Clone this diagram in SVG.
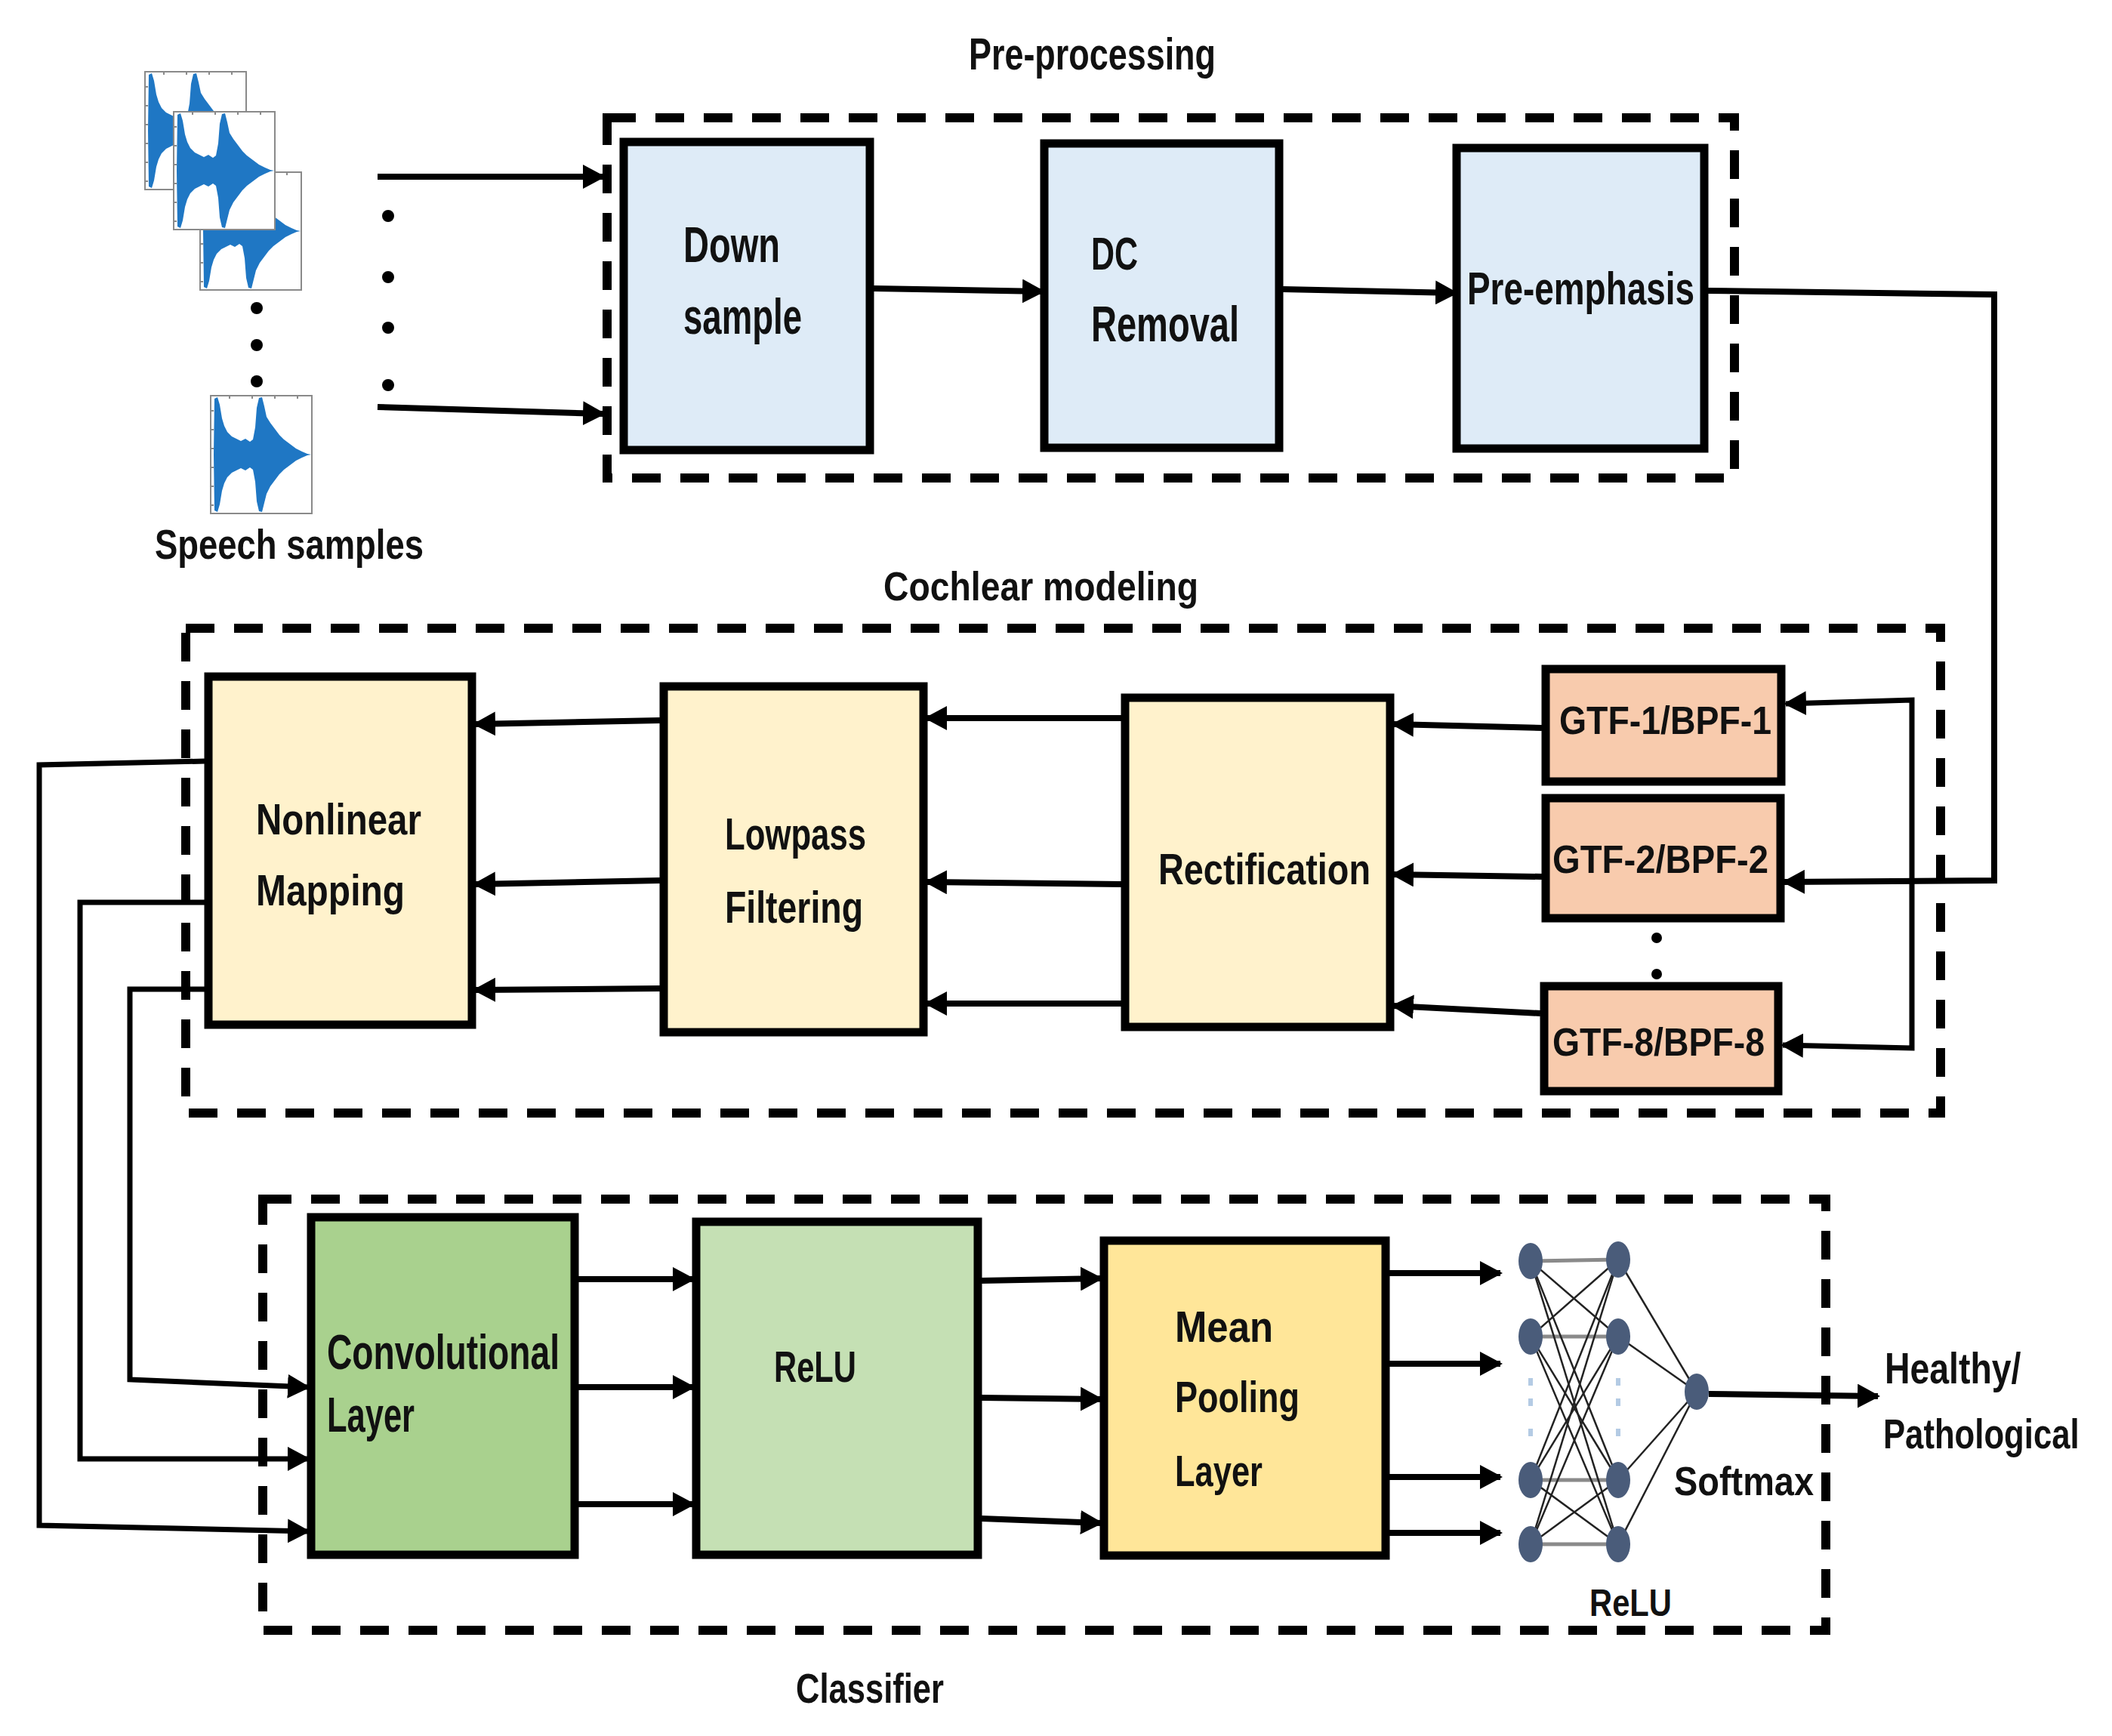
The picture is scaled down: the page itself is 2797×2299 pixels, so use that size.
<svg xmlns="http://www.w3.org/2000/svg" width="2797" height="2299" viewBox="0 0 2797 2299">
<style>
  text { font-family: "Liberation Sans Narrow", "Liberation Sans", Arial, sans-serif; font-weight: bold; fill: #111; }
  .dash { fill: none; stroke: #000; stroke-width: 12; stroke-dasharray: 38 26; }
  .box { stroke: #000; stroke-width: 11; }
  .blue { fill: #DEEBF7; }
  .yel { fill: #FFF2CC; }
  .peach { fill: #F8CBAD; }
  .green { fill: #A9D18E; }
  .lgreen { fill: #C5E0B4; }
  .gold { fill: #FFE699; }
  .ar { fill: none; stroke: #000; stroke-width: 8; marker-end: url(#ah); }
  .ln { fill: none; stroke: #000; stroke-width: 7; }
  .nnx { stroke: #222; stroke-width: 2.5; }
  .nnh { stroke: #8a8a8a; stroke-width: 5; }
  .node { fill: #4A5C7A; }
</style>
<defs>
  <marker id="ah" markerUnits="userSpaceOnUse" markerWidth="30" markerHeight="32" viewBox="0 0 30 32" refX="27" refY="16" orient="auto-start-reverse">
    <path d="M0,0 L30,16 L0,32 Z" fill="#000"/>
  </marker>
  <g id="wave">
    <rect x="0" y="0" width="134" height="156" fill="#fff" stroke="#8a8a8a" stroke-width="2"/>
    <path d="M0,20 h4 M0,45 h4 M0,70 h4 M0,95 h4 M0,120 h4 M0,145 h4 M25,0 v4 M55,0 v4 M85,0 v4 M115,0 v4" stroke="#8a8a8a" stroke-width="2"/>
    <path fill="#1F77C4" d="M4,78 L5,4 L9,2 L12,12 L15,30 L18,40 L22,48 L28,54 L34,57 L40,60 L46,57 L52,61 L56,58 L59,42 L61,16 L64,3 L68,2 L71,14 L74,28 L79,36 L85,44 L91,52 L97,58 L105,64 L113,70 L121,74 L128,77 L133,78 L128,79 L121,82 L113,86 L105,92 L97,98 L91,104 L85,112 L79,120 L74,130 L71,142 L68,154 L64,153 L61,140 L59,114 L56,98 L52,95 L46,99 L40,96 L34,99 L28,102 L22,108 L18,116 L15,126 L12,144 L9,154 L5,152 Z"/>
  </g>
</defs>
<rect width="2797" height="2299" fill="#fff"/>

<g id="speech-samples">
  <use href="#wave" x="192" y="95"/>
  <use href="#wave" x="265" y="228"/>
  <use href="#wave" x="230" y="148"/>
  <use href="#wave" x="279" y="524"/>
  <circle cx="340" cy="408" r="8" fill="#000"/>
  <circle cx="340" cy="457" r="8" fill="#000"/>
  <circle cx="340" cy="505" r="8" fill="#000"/>
  <circle cx="514" cy="286" r="8" fill="#000"/>
  <circle cx="514" cy="367" r="8" fill="#000"/>
  <circle cx="514" cy="434" r="8" fill="#000"/>
  <circle cx="514" cy="510" r="8" fill="#000"/>
  <text x="205" y="740" font-size="56" textLength="356" lengthAdjust="spacingAndGlyphs">Speech samples</text>
</g>

<g id="preprocessing">
  <text x="1283" y="92" font-size="60" textLength="327" lengthAdjust="spacingAndGlyphs">Pre-processing</text>
  <rect class="dash" x="804" y="156" width="1493" height="477"/>
</g>
<g id="down-sample">
  <rect class="box blue" x="826" y="188" width="326" height="408"/>
  <text x="905" y="347" font-size="66" textLength="128" lengthAdjust="spacingAndGlyphs">Down</text>
  <text x="905" y="442" font-size="66" textLength="157" lengthAdjust="spacingAndGlyphs">sample</text>
</g>
<g id="dc-removal">
  <rect class="box blue" x="1383" y="190" width="311" height="403"/>
  <text x="1445" y="357" font-size="62" textLength="62" lengthAdjust="spacingAndGlyphs">DC</text>
  <text x="1445" y="452" font-size="66" textLength="196" lengthAdjust="spacingAndGlyphs">Removal</text>
</g>
<g id="pre-emphasis">
  <rect class="box blue" x="1929" y="196" width="328" height="398"/>
  <text x="1943" y="403" font-size="62" textLength="301" lengthAdjust="spacingAndGlyphs">Pre-emphasis</text>
</g>

<g id="cochlear">
  <text x="1170" y="795" font-size="54" textLength="417" lengthAdjust="spacingAndGlyphs">Cochlear modeling</text>
  <rect class="dash" x="246" y="832" width="2324" height="642"/>
</g>
<g id="nonlinear-mapping">
  <rect class="box yel" x="276" y="896" width="349" height="461"/>
  <text x="339" y="1105" font-size="58" textLength="219" lengthAdjust="spacingAndGlyphs">Nonlinear</text>
  <text x="339" y="1199" font-size="58" textLength="197" lengthAdjust="spacingAndGlyphs">Mapping</text>
</g>
<g id="lowpass-filtering">
  <rect class="box yel" x="879" y="909" width="344" height="458"/>
  <text x="960" y="1125" font-size="60" textLength="187" lengthAdjust="spacingAndGlyphs">Lowpass</text>
  <text x="960" y="1222" font-size="60" textLength="183" lengthAdjust="spacingAndGlyphs">Filtering</text>
</g>
<g id="rectification">
  <rect class="box yel" x="1490" y="924" width="351" height="436"/>
  <text x="1534" y="1171" font-size="58" textLength="281" lengthAdjust="spacingAndGlyphs">Rectification</text>
</g>
<g id="gtf-1">
  <rect class="box peach" x="2047" y="886" width="312" height="149"/>
  <text x="2065" y="972" font-size="52" textLength="281" lengthAdjust="spacingAndGlyphs">GTF-1/BPF-1</text>
</g>
<g id="gtf-2">
  <rect class="box peach" x="2047" y="1057" width="311" height="159"/>
  <text x="2056" y="1156" font-size="52" textLength="286" lengthAdjust="spacingAndGlyphs">GTF-2/BPF-2</text>
</g>
<g id="gtf-dots">
  <circle cx="2194" cy="1242" r="7" fill="#000"/>
  <circle cx="2194" cy="1290" r="7" fill="#000"/>
</g>
<g id="gtf-8">
  <rect class="box peach" x="2045" y="1306" width="310" height="139"/>
  <text x="2056" y="1398" font-size="52" textLength="281" lengthAdjust="spacingAndGlyphs">GTF-8/BPF-8</text>
</g>

<g id="classifier">
  <rect class="dash" x="348" y="1588" width="2070" height="571"/>
  <text x="1054" y="2255" font-size="55" textLength="196" lengthAdjust="spacingAndGlyphs">Classifier</text>
</g>
<g id="convolutional-layer">
  <rect class="box green" x="412" y="1612" width="349" height="447"/>
  <text x="433" y="1813" font-size="64" textLength="308" lengthAdjust="spacingAndGlyphs">Convolutional</text>
  <text x="433" y="1896" font-size="64" textLength="116" lengthAdjust="spacingAndGlyphs">Layer</text>
</g>
<g id="relu">
  <rect class="box lgreen" x="922" y="1618" width="373" height="441"/>
  <text x="1025" y="1830" font-size="58" textLength="109" lengthAdjust="spacingAndGlyphs">ReLU</text>
</g>
<g id="mean-pooling">
  <rect class="box gold" x="1462" y="1643" width="373" height="417"/>
  <text x="1556" y="1777" font-size="58" textLength="130" lengthAdjust="spacingAndGlyphs">Mean</text>
  <text x="1556" y="1870" font-size="58" textLength="165" lengthAdjust="spacingAndGlyphs">Pooling</text>
  <text x="1556" y="1968" font-size="58" textLength="116" lengthAdjust="spacingAndGlyphs">Layer</text>
</g>

<g id="neural-network">
  <g class="nnh">
    <line x1="2027" y1="1670" x2="2143" y2="1668"/>
    <line x1="2027" y1="1770" x2="2143" y2="1770"/>
    <line x1="2027" y1="1960" x2="2143" y2="1960"/>
    <line x1="2027" y1="2045" x2="2143" y2="2045"/>
  </g>
  <g class="nnx">
    <line x1="2027" y1="1670" x2="2143" y2="1770"/>
    <line x1="2027" y1="1670" x2="2143" y2="1960"/>
    <line x1="2027" y1="1670" x2="2143" y2="2045"/>
    <line x1="2027" y1="1770" x2="2143" y2="1668"/>
    <line x1="2027" y1="1770" x2="2143" y2="1960"/>
    <line x1="2027" y1="1770" x2="2143" y2="2045"/>
    <line x1="2027" y1="1960" x2="2143" y2="1668"/>
    <line x1="2027" y1="1960" x2="2143" y2="1770"/>
    <line x1="2027" y1="1960" x2="2143" y2="2045"/>
    <line x1="2027" y1="2045" x2="2143" y2="1668"/>
    <line x1="2027" y1="2045" x2="2143" y2="1770"/>
    <line x1="2027" y1="2045" x2="2143" y2="1960"/>
    <line x1="2143" y1="1668" x2="2247" y2="1843"/>
    <line x1="2143" y1="1770" x2="2247" y2="1843"/>
    <line x1="2143" y1="1960" x2="2247" y2="1843"/>
    <line x1="2143" y1="2045" x2="2247" y2="1843"/>
  </g>
  <g fill="#B4CBE4">
    <rect x="2024" y="1825" width="6" height="10"/>
    <rect x="2024" y="1852" width="6" height="10"/>
    <rect x="2024" y="1892" width="6" height="10"/>
    <rect x="2140" y="1825" width="6" height="10"/>
    <rect x="2140" y="1852" width="6" height="10"/>
    <rect x="2140" y="1892" width="6" height="10"/>
  </g>
  <ellipse class="node" cx="2027" cy="1670" rx="16" ry="24"/>
  <ellipse class="node" cx="2027" cy="1770" rx="16" ry="24"/>
  <ellipse class="node" cx="2027" cy="1960" rx="16" ry="24"/>
  <ellipse class="node" cx="2027" cy="2045" rx="16" ry="24"/>
  <ellipse class="node" cx="2143" cy="1668" rx="16" ry="24"/>
  <ellipse class="node" cx="2143" cy="1770" rx="16" ry="24"/>
  <ellipse class="node" cx="2143" cy="1960" rx="16" ry="24"/>
  <ellipse class="node" cx="2143" cy="2045" rx="16" ry="24"/>
  <ellipse class="node" cx="2247" cy="1843" rx="16" ry="24"/>
  <text x="2217" y="1980" font-size="54" textLength="185" lengthAdjust="spacingAndGlyphs">Softmax</text>
  <text x="2105" y="2140" font-size="50" textLength="109" lengthAdjust="spacingAndGlyphs">ReLU</text>
</g>
<g id="output">
  <text transform="translate(2496,1832) scale(0.8,1)" x="0" y="0" font-size="58">Healthy/</text>
  <text transform="translate(2494,1918) scale(0.78,1)" x="0" y="0" font-size="56">Pathological</text>
</g>

<g id="connectors">
  <path class="ar" d="M500,234 L799,234"/>
  <path class="ar" d="M500,539 L799,548"/>
  <path class="ar" d="M1157,382 L1381,386"/>
  <path class="ar" d="M1699,383 L1928,388"/>
  <path class="ar" d="M2262,385 L2641,390 L2641,1166 L2363,1168"/>
  <path class="ln" d="M2365,932 L2532,927 L2532,1388 L2361,1384" marker-start="url(#ah)" marker-end="url(#ah)"/>
  <path class="ar" d="M2042,964 L1845,959"/>
  <path class="ar" d="M2042,1161 L1845,1158"/>
  <path class="ar" d="M2040,1342 L1845,1332"/>
  <path class="ar" d="M1485,951 L1227,951"/>
  <path class="ar" d="M1485,1171 L1227,1168"/>
  <path class="ar" d="M1485,1329 L1227,1329"/>
  <path class="ar" d="M874,954 L629,959"/>
  <path class="ar" d="M874,1166 L629,1171"/>
  <path class="ar" d="M874,1309 L629,1311"/>
  <path class="ln" d="M271,1008 L52,1013 L52,2020 L408,2028" marker-end="url(#ah)"/>
  <path class="ln" d="M271,1195 L106,1195 L106,1932 L408,1932" marker-end="url(#ah)"/>
  <path class="ln" d="M271,1310 L172,1310 L172,1827 L408,1837" marker-end="url(#ah)"/>
  <path class="ar" d="M766,1694 L918,1694"/>
  <path class="ar" d="M766,1837 L918,1837"/>
  <path class="ar" d="M766,1992 L918,1992"/>
  <path class="ar" d="M1300,1696 L1458,1693"/>
  <path class="ar" d="M1300,1851 L1458,1853"/>
  <path class="ar" d="M1300,2011 L1458,2017"/>
  <path class="ar" d="M1840,1686 L1987,1686"/>
  <path class="ar" d="M1840,1806 L1987,1806"/>
  <path class="ar" d="M1840,1956 L1987,1956"/>
  <path class="ar" d="M1840,2030 L1987,2030"/>
  <path class="ar" d="M2263,1846 L2487,1849"/>
</g>
</svg>
